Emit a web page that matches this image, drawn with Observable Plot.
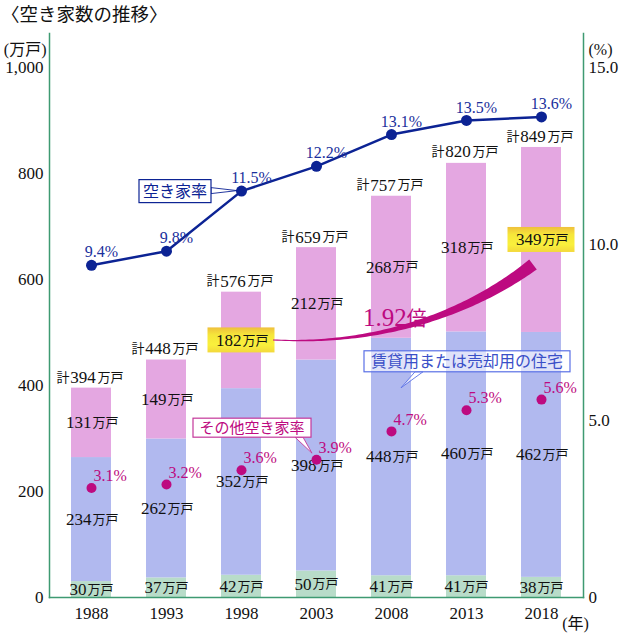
<!DOCTYPE html>
<html><head><meta charset="utf-8">
<script src="https://cdn.jsdelivr.net/npm/d3@7"></script>
<script src="https://cdn.jsdelivr.net/npm/@observablehq/plot@0.6"></script>
<style>
body{margin:0;background:#fff;}
#title{font-family:"Noto Sans CJK JP",sans-serif;font-size:18.5px;height:26px;line-height:26px;margin:0;padding:0 0 0 1px;color:#111;white-space:nowrap;overflow:visible;}
</style></head><body>
<div id="title">〈空き家数の推移〉</div>
<div id="chart"></div>
<script>
// ---- data ----
const years = ["1988","1993","1998","2003","2008","2013","2018"];
const secondaryHomes = [30,37,42,50,41,41,38];          // 二次的住宅 (green)
const rentalOrSale   = [234,262,352,398,448,460,462];   // 賃貸用または売却用の住宅 (blue)
const otherHomes     = [131,149,182,212,268,318,349];   // その他の住宅 (pink)
const totals         = [394,448,576,659,757,820,849];
const vacancyRate    = [9.4,9.8,11.5,12.2,13.1,13.5,13.6];  // 空き家率 (%)
const otherRate      = [3.1,3.2,3.6,3.9,4.7,5.3,5.6];       // その他空き家率 (%)
const leftTicks  = [0,200,400,600,800,1000];
const rightTicks = [0,5,10,15];
const highlightYears = ["1998","2018"];
const segs = ["二次的住宅","賃貸用または売却用の住宅","その他の住宅"];

// ---- styles ----
const segColors = ["#b8dcc9","#b1b9ef","#e4a7e1"];
const navy = "#0c2394", magenta = "#bd0a80", axisGreen = "#3e9a72";
const serif = "'Liberation Serif', 'Times New Roman', Times, 'DejaVu Serif', 'Noto Sans CJK JP', serif";
const cjk = "'Noto Sans CJK JP', 'Liberation Serif', sans-serif";

const rateToY = r => r / 15 * 1000;
const rows = [];
years.forEach((yr, i) => {
  let base = 0;
  [secondaryHomes, rentalOrSale, otherHomes].forEach((arr, k) => {
    const v = arr[i];
    rows.push({year: yr, seg: segs[k], k, value: v, y1: base, y2: base + v, mid: base + v / 2});
    base += v;
  });
});
const yearRows = years.map((yr, i) => ({year: yr, total: totals[i], rate: vacancyRate[i], orate: otherRate[i]}));
const hlRows = rows.filter(d => d.k === 2 && highlightYears.includes(d.year));

function annotate(index, scales) {
  const xs = scales.x, ys = scales.y, bw = xs.bandwidth();
  const cx = yr => xs(yr) + bw / 2;
  const g = d3.create("svg:g");
  const grad = g.append("defs").append("linearGradient").attr("id", "hlgrad")
    .attr("x1", 0).attr("y1", 0).attr("x2", 0).attr("y2", 1);
  [[0, "#efc03c"], [0.3, "#f6e63a"], [0.7, "#f9f03c"], [1, "#f3d83c"]].forEach(([o, c]) =>
    grad.append("stop").attr("offset", o).attr("stop-color", c));

  // tapered arrow from 1998 "other" label to 2018 "other" label
  const r0 = hlRows[0], r1 = hlRows[1];
  const P0 = [cx(r0.year) + 32, ys(r0.mid)];
  const P3 = [cx(r1.year) - 8, ys(r1.mid) + 25];
  const P1 = [P0[0] + 110, P0[1] + 6];
  const P2 = [P3[0] - 60, P3[1] + 46];
  const bez = t => [0, 1].map(j => (1-t)**3*P0[j] + 3*(1-t)**2*t*P1[j] + 3*(1-t)*t*t*P2[j] + t**3*P3[j]);
  const der = t => [0, 1].map(j => 3*(1-t)**2*(P1[j]-P0[j]) + 6*(1-t)*t*(P2[j]-P1[j]) + 3*t*t*(P3[j]-P2[j]));
  const L = [], R = [];
  for (let i = 0; i <= 80; i++) {
    const t = i / 80, p = bez(t), d = der(t), len = Math.hypot(d[0], d[1]);
    const nx = -d[1] / len, ny = d[0] / len, w = (1 + 11.5 * t ** 1.3) / 2;
    L.push([p[0] + nx * w, p[1] + ny * w]);
    R.push([p[0] - nx * w, p[1] - ny * w]);
  }
  g.append("path").attr("d", "M" + L.join("L") + "L" + R.reverse().join("L") + "Z").attr("fill", magenta);
  const pt = bez(0.4);
  const rt = g.append("text").attr("x", pt[0]).attr("y", pt[1] - 3).attr("text-anchor", "middle").attr("fill", magenta);
  rt.append("tspan").attr("font-family", serif).attr("font-size", 25).text((otherHomes[6] / otherHomes[2]).toFixed(2));
  rt.append("tspan").attr("font-family", cjk).attr("font-size", 20).text("倍");

  function callout({box, ptr, text, color, stroke, fill, size}) {
    g.append("path").attr("d", "M" + ptr.join("L") + "Z").attr("fill", fill).attr("stroke", stroke).attr("stroke-width", 0.9);
    g.append("rect").attr("x", box[0]).attr("y", box[1]).attr("width", box[2] - box[0]).attr("height", box[3] - box[1])
      .attr("fill", fill).attr("stroke", stroke).attr("stroke-width", 1.2);
    g.append("text").attr("x", (box[0] + box[2]) / 2).attr("y", (box[1] + box[3]) / 2).attr("dy", "0.36em")
      .attr("text-anchor", "middle").attr("font-family", cjk).attr("font-size", size).attr("fill", color).text(text);
  }
  // 空き家率
  const A = [cx(years[2]), ys(rateToY(vacancyRate[2]))];
  callout({box: [A[0]-102, A[1]-11, A[0]-30, A[1]+12], ptr: [[A[0]-30, A[1]-3], [A[0]-4, A[1]], [A[0]-30, A[1]+3]],
    text: "空き家率", color: navy, stroke: navy, fill: "#fff", size: 16});
  // その他空き家率
  const B = [cx(years[3]), ys(rateToY(otherRate[3]))];
  callout({box: [B[0]-123, B[1]-41, B[0]-5, B[1]-22], ptr: [[B[0]-21, B[1]-22], [B[0]-4, B[1]-6], [B[0]-13, B[1]-22]],
    text: "その他空き家率", color: magenta, stroke: "#c4389a", fill: "#fff", size: 15});
  // 賃貸用または売却用の住宅
  const rr = rows.find(d => d.year === years[4] && d.k === 1);
  const C = [cx(rr.year), ys(rr.y2)];
  callout({box: [C[0]-27, C[1]+13, C[0]+179, C[1]+34], ptr: [[C[0]+24, C[1]+34], [C[0]+10, C[1]+50], [C[0]+32, C[1]+34]],
    text: segs[1], color: "#3a50c8", stroke: "#5a70e6", fill: "rgba(255,255,255,0.6)", size: 16});
  return g.node();
}

const chart = Plot.plot({
  width: 619, height: 613,
  marginTop: 7, marginBottom: 42, marginLeft: 49, marginRight: 36,
  x: {domain: years, paddingInner: 0.47, paddingOuter: 0.25},
  y: {domain: [0, 1064]},
  color: {domain: segs, range: segColors},
  style: {fontFamily: serif, background: "#fff", color: "#111", overflow: "visible"},
  marks: [
    Plot.barY(rows, {x: "year", y1: "y1", y2: "y2", fill: "seg"}),
    Plot.barY(hlRows, {x: "year", y1: "mid", y2: "mid", fill: "url(#hlgrad)",
      insetLeft: -13.5, insetRight: -13.5, insetTop: -12.5, insetBottom: -12.5}),
    Plot.frame({anchor: "left", stroke: axisGreen, strokeWidth: 1.5}),
    Plot.frame({anchor: "right", stroke: axisGreen, strokeWidth: 1.5}),
    Plot.frame({anchor: "bottom", stroke: axisGreen, strokeWidth: 1.5}),
    annotate,
    // segment labels
    Plot.text(rows.filter(d => d.k > 0), {x: "year", y: "mid", text: d => String(d.value), textAnchor: "end", dx: 0, fontSize: 17, fontFamily: serif, fill: "#111"}),
    Plot.text(rows.filter(d => d.k > 0), {x: "year", y: "mid", text: () => "万戸", textAnchor: "start", dx: 1, fontSize: 13, fontFamily: cjk, fill: "#111"}),
    Plot.text(rows.filter(d => d.k === 0), {x: "year", y: "mid", text: d => String(d.value), textAnchor: "end", dx: -5, fontSize: 17, fontFamily: serif, fill: "#111"}),
    Plot.text(rows.filter(d => d.k === 0), {x: "year", y: "mid", text: () => "万戸", textAnchor: "start", dx: -4, fontSize: 13, fontFamily: cjk, fill: "#111"}),
    // total labels
    Plot.text(yearRows, {x: "year", y: "total", text: () => "計", textAnchor: "end", dx: -22, dy: -11, fontSize: 13, fontFamily: cjk, fill: "#111"}),
    Plot.text(yearRows, {x: "year", y: "total", text: d => String(d.total), textAnchor: "middle", dx: -8.5, dy: -11, fontSize: 17, fontFamily: serif, fill: "#111"}),
    Plot.text(yearRows, {x: "year", y: "total", text: () => "万戸", textAnchor: "start", dx: 6, dy: -11, fontSize: 13, fontFamily: cjk, fill: "#111"}),
    // 空き家率 line
    Plot.line(yearRows, {x: "year", y: d => rateToY(d.rate), stroke: navy, strokeWidth: 2.5}),
    Plot.dot(yearRows, {x: "year", y: d => rateToY(d.rate), r: 5.5, fill: navy}),
    Plot.text(yearRows, {x: "year", y: d => rateToY(d.rate), text: d => d.rate.toFixed(1) + "%", dx: 10, dy: -13, fontSize: 16, fontFamily: serif, fill: "#1a2f9c"}),
    // その他空き家率 dots
    Plot.dot(yearRows, {x: "year", y: d => rateToY(d.orate), r: 5, fill: magenta}),
    Plot.text(yearRows, {x: "year", y: d => rateToY(d.orate), text: d => d.orate.toFixed(1) + "%", textAnchor: "start", dx: 2, dy: -12, fontSize: 16, fontFamily: serif, fill: magenta}),
    // axes
    Plot.axisY(leftTicks, {anchor: "left", tickSize: 0, tickPadding: 6, tickFormat: d3.format(","), fontSize: 17, fontFamily: serif, label: null}),
    Plot.axisY(rightTicks.map(rateToY), {anchor: "right", tickSize: 0, tickPadding: 5, fontSize: 17, fontFamily: serif, label: null,
      tickFormat: d => { const p = Math.round(d * 15 / 1000 * 10) / 10; return p === 0 ? "0" : p.toFixed(1); }}),
    Plot.axisX({tickSize: 0, tickPadding: 9, fontSize: 17, fontFamily: serif, label: null}),
    Plot.text(["(万戸)"], {frameAnchor: "top-left", textAnchor: "end", dx: -3, dy: 10, fontSize: 16, fontFamily: serif, fill: "#111"}),
    Plot.text(["(%)"], {frameAnchor: "top-right", textAnchor: "start", dx: 5, dy: 10, fontSize: 16, fontFamily: serif, fill: "#111"}),
    Plot.text(["(年)"], {frameAnchor: "bottom-right", textAnchor: "middle", dx: -8, dy: 31, fontSize: 16, fontFamily: serif, fill: "#111"})
  ]
});
document.getElementById("chart").appendChild(chart);
</script>
</body></html>
